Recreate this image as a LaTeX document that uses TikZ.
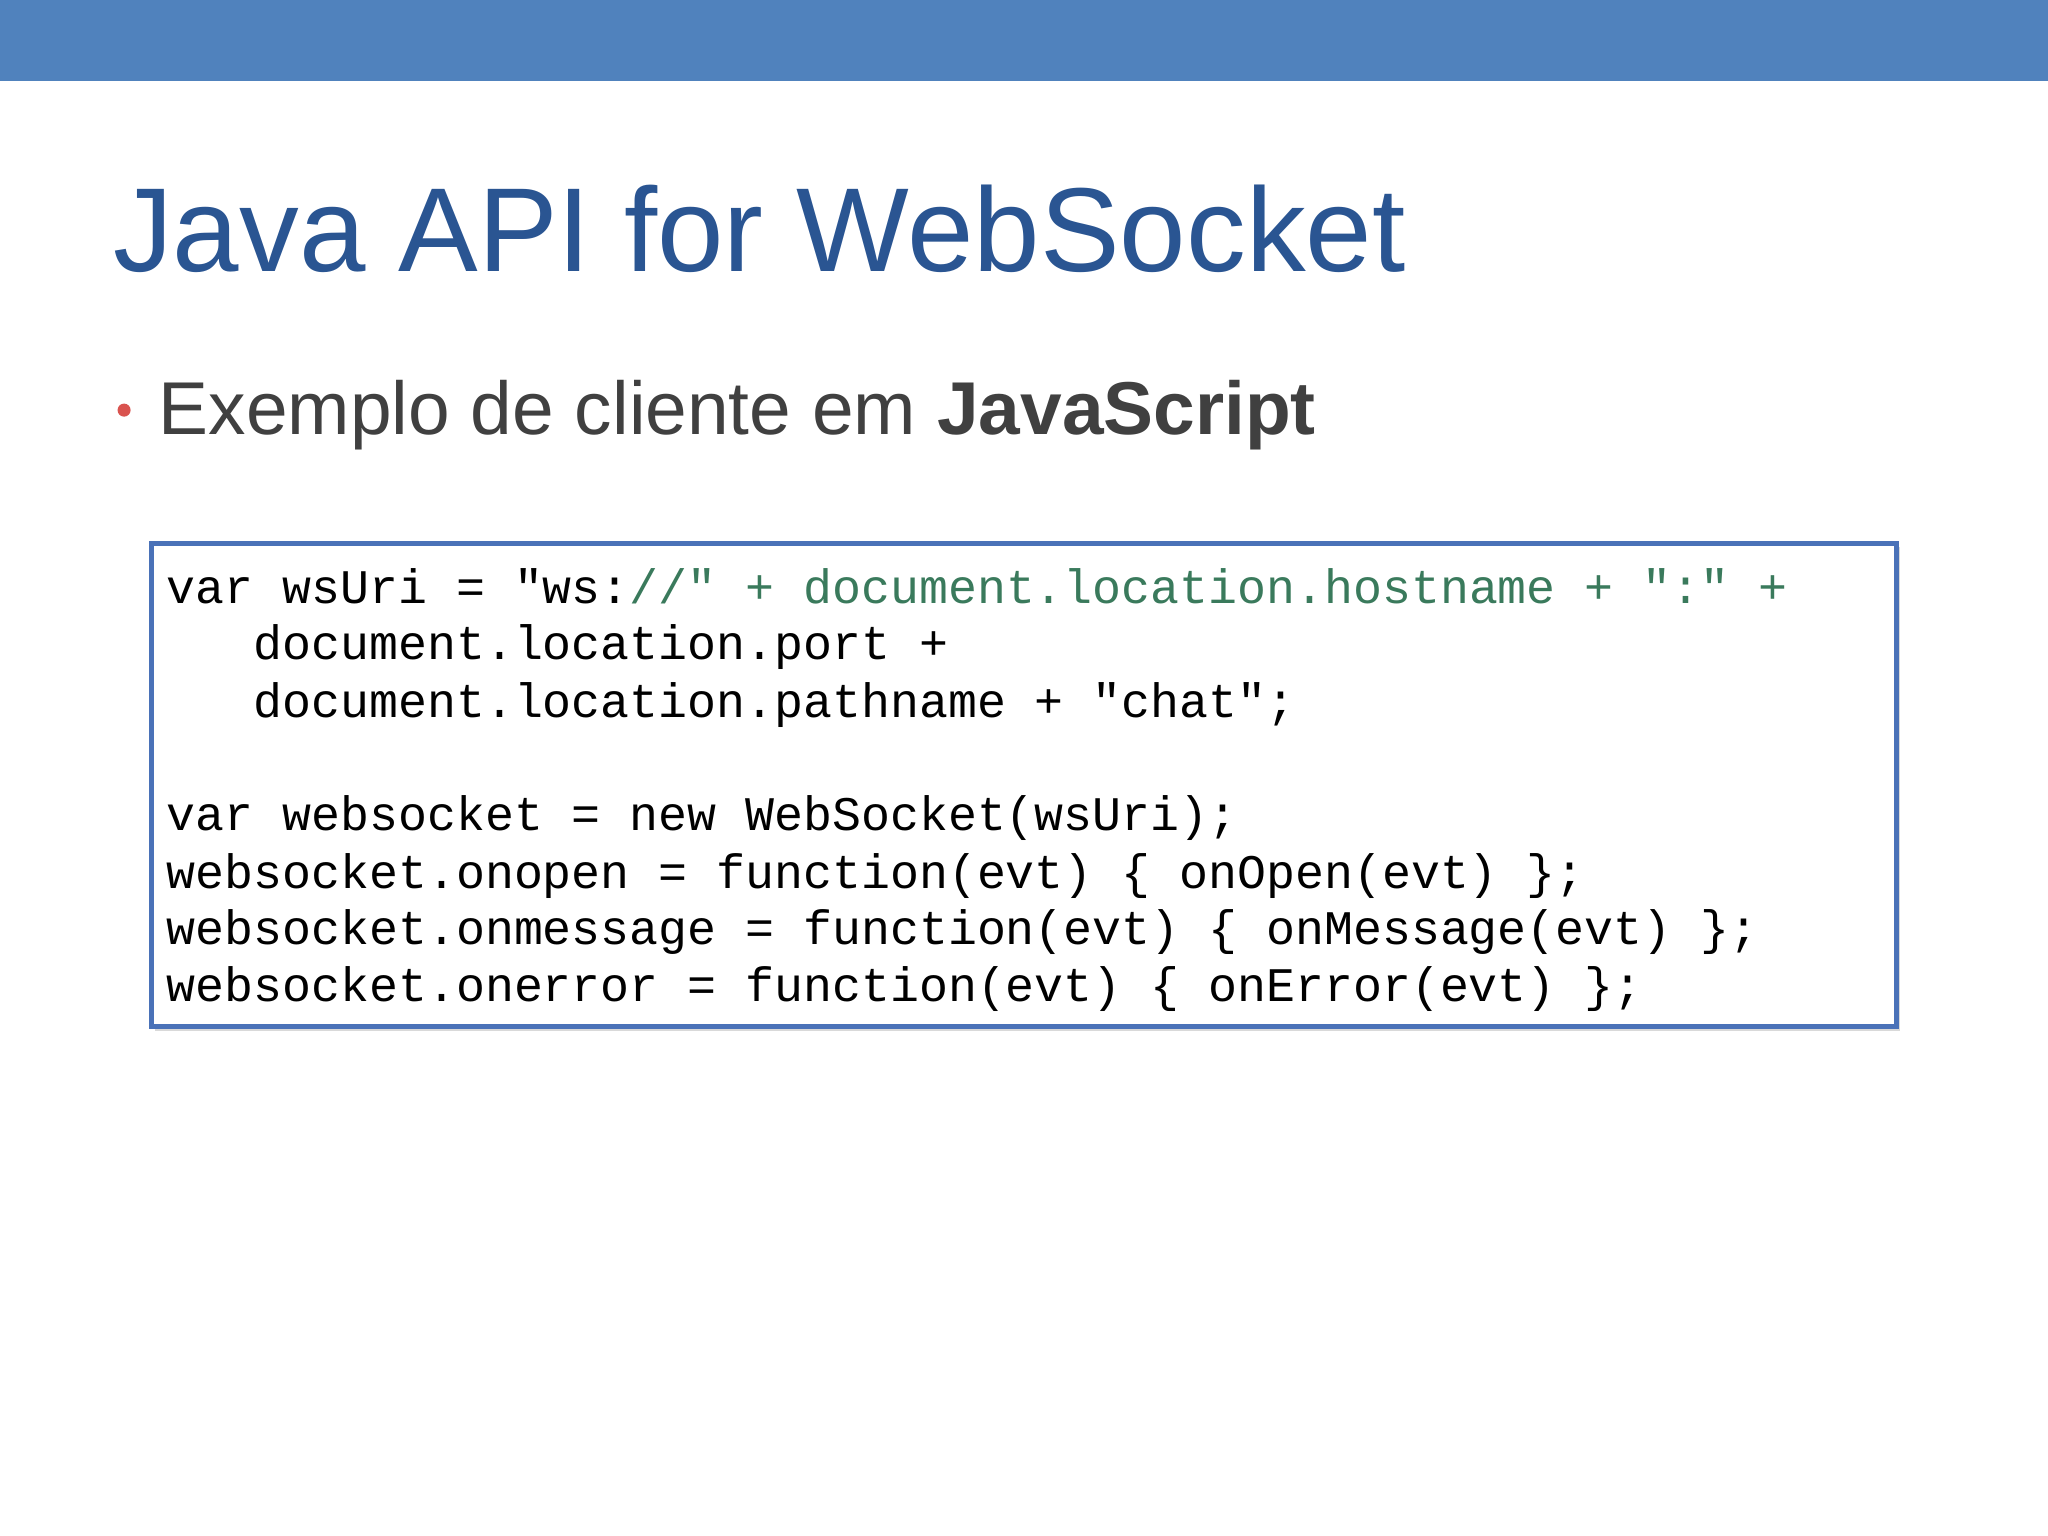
\documentclass[tikz,border=0pt]{standalone}
\usepackage{fontspec}
\setmainfont{Liberation Sans}
\newfontfamily\codefont{Liberation Mono}
\definecolor{barblue}{HTML}{5082BD}
\definecolor{titleblue}{HTML}{2A5592}
\definecolor{boxblue}{HTML}{4A72B8}
\definecolor{txtgray}{HTML}{404040}
\definecolor{codegreen}{HTML}{3A7A5C}
\definecolor{bulletred}{HTML}{D9534F}
\begin{document}
\begin{tikzpicture}[x=0.01cm,y=-0.01cm,
  code/.style={anchor=base west,inner sep=0pt,font=\codefont\fontsize{10.5}{12}\selectfont}]
\useasboundingbox (0,0) rectangle (1568,1176);
\fill[barblue] (0,0) rectangle (1568,62);
\node[anchor=base west,inner sep=0pt,text=titleblue,font=\fontsize{26}{30}\selectfont] (title) at (86,208) {Java API for WebSocket};
\fill[bulletred] (95,314) circle (5);
\node[anchor=base west,inner sep=0pt,text=txtgray,font=\fontsize{16.3}{20}\selectfont] (bullet) at (121,333) {Exemplo de cliente em \textbf{JavaScript}};
\fill[black!15] (119,419) rectangle (1455,789);
\draw[boxblue,line width=1pt,fill=white] (116,416) rectangle (1452,786);
\node[code] (l1) at (127,462) {var wsUri = "ws:\textcolor{codegreen}{//" + document.location.hostname + ":" +}};
\node[code] (l2) at (127,505) {\phantom{xxx}document.location.port +};
\node[code] (l3) at (127,549) {\phantom{xxx}document.location.pathname + "chat";};
\node[code] (l5) at (127,636) {var websocket = new WebSocket(wsUri);};
\node[code] (l6) at (127,680) {websocket.onopen = function(evt) \{ onOpen(evt) \};};
\node[code] (l7) at (127,723) {websocket.onmessage = function(evt) \{ onMessage(evt) \};};
\node[code] (l8) at (127,767) {websocket.onerror = function(evt) \{ onError(evt) \};};
\end{tikzpicture}
\end{document}
